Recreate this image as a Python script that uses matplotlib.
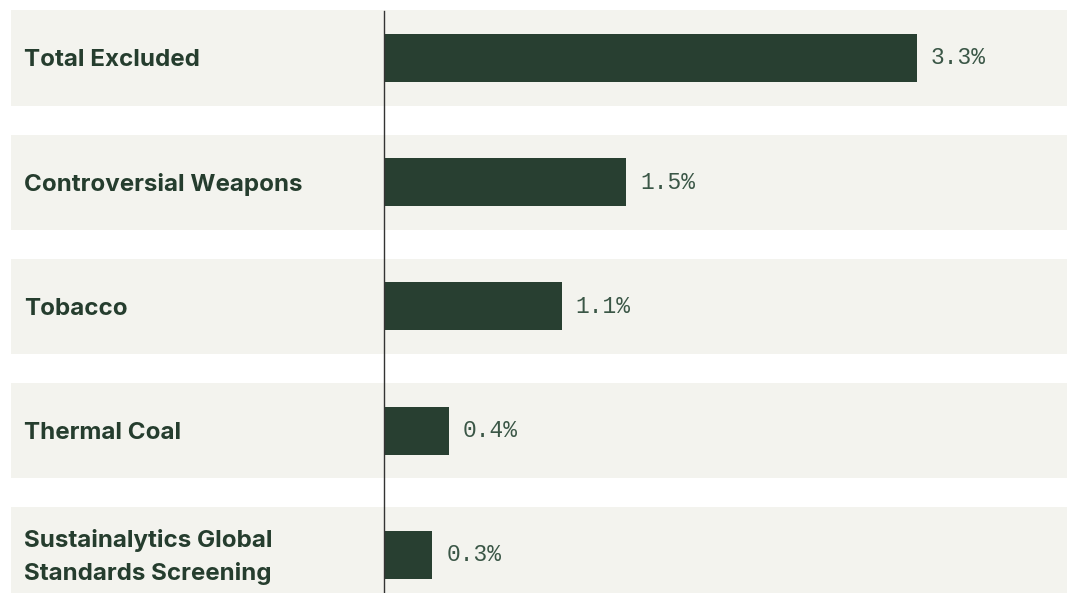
import matplotlib
matplotlib.use("Agg")
import matplotlib.pyplot as plt
from matplotlib.transforms import blended_transform_factory

categories = [
    "Total Excluded",
    "Controversial Weapons",
    "Tobacco",
    "Thermal Coal",
    "Sustainalytics Global\nStandards Screening",
]
values = [3.3, 1.5, 1.1, 0.4, 0.3]
value_labels = ["3.3%", "1.5%", "1.1%", "0.4%", "0.3%"]

BAR = "#283f31"
BAND = "#f3f3ee"
TEXT = "#253d2e"

W, H = 1067, 593
px_per_unit = 161.5
row_px = 124.2
top_px = 58

fig = plt.figure(figsize=(W / 100, H / 100), dpi=100)
ax = fig.add_axes([0, 0, 1, 1])
ax.set_xlim(-384 / px_per_unit, (W - 384) / px_per_unit)
ax.set_ylim((H - top_px) / row_px, -top_px / row_px)
ax.axis("off")

ys = list(range(len(categories)))
for y in ys:
    ax.axhspan(y - 0.383, y + 0.383, xmin=11 / W, xmax=1, color=BAND, lw=0, zorder=0)

ax.barh(ys, values, height=0.386, color=BAR, zorder=2)
ax.axvline(0, ymin=0, ymax=1 - 11 / H, color="#333333", lw=1, zorder=3)

label_tr = blended_transform_factory(ax.transAxes, ax.transData)
for y, cat, v, lab in zip(ys, categories, values, value_labels):
    ax.text(24 / W, y + 0.02, cat, transform=label_tr,
            ha="left", va="center", fontsize=17.4, fontweight="bold",
            family="Inter", color=TEXT, linespacing=1.55)
    ax.annotate(lab, (v, y), xytext=(10, 0), textcoords="offset points",
                ha="left", va="center", fontsize=16.5, family="Liberation Mono",
                color="#3a5646")

fig.savefig("out.png", dpi=100)
